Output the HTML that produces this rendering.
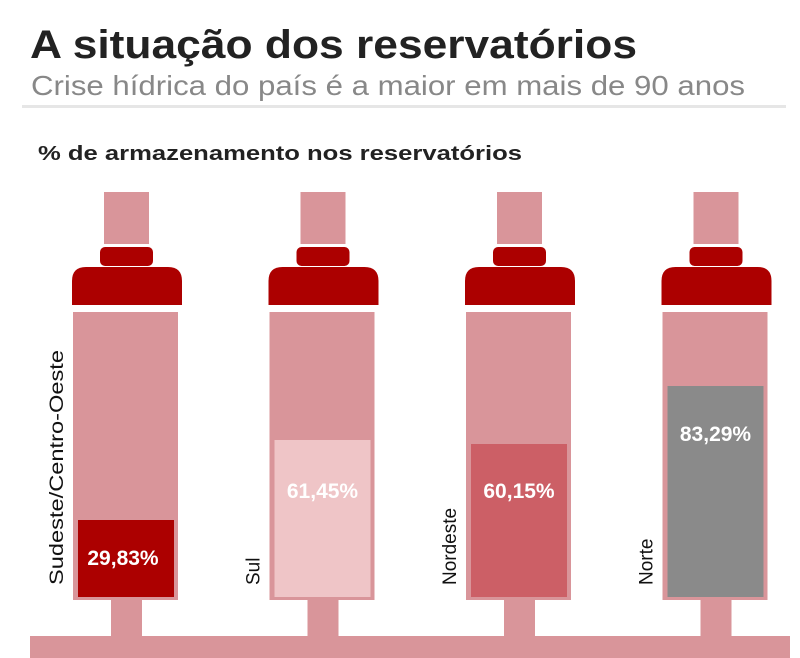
<!DOCTYPE html>
<html><head><meta charset="utf-8"><style>
html,body{margin:0;padding:0;background:#fff;}
svg{display:block;}
text{font-family:"Liberation Sans",sans-serif;}
</style></head><body>
<svg width="800" height="658" viewBox="0 0 800 658" xmlns="http://www.w3.org/2000/svg">
<rect width="800" height="658" fill="#fff"/>
<text x="30" y="58" font-size="40" font-weight="bold" fill="#222" textLength="607" lengthAdjust="spacingAndGlyphs">A situação dos reservatórios</text>
<text x="31" y="95" font-size="28" fill="#888" textLength="714" lengthAdjust="spacingAndGlyphs">Crise hídrica do país é a maior em mais de 90 anos</text>
<rect x="22" y="105" width="764" height="3" fill="#e6e6e6"/>
<text x="38" y="160" font-size="20" font-weight="bold" fill="#222" textLength="484" lengthAdjust="spacingAndGlyphs">% de armazenamento nos reservatórios</text>
<rect x="30" y="636" width="760" height="22" fill="#d9959a"/>
<g id="b">
</g>
<!-- bottles -->
<g transform="translate(0,0)">
<rect x="104" y="192" width="45" height="52" fill="#d9959a"/>
<rect x="100" y="247" width="53" height="19" rx="5" fill="#ac0000"/>
<path d="M72 305 V281 Q72 267 86 267 H168 Q182 267 182 281 V305 Z" fill="#ac0000"/>
<rect x="73" y="312" width="105" height="288" fill="#d9959a"/>
<rect x="78" y="520" width="96" height="77" fill="#ac0000"/>
<rect x="111" y="600" width="31" height="36" fill="#d9959a"/>
<text x="123" y="565" font-size="21" font-weight="bold" fill="#fff" text-anchor="middle">29,83%</text>
<text transform="translate(63,585) rotate(-90)" font-size="19" fill="#111" textLength="235" lengthAdjust="spacingAndGlyphs">Sudeste/Centro-Oeste</text>
</g>
<g transform="translate(196.5,0)">
<rect x="104" y="192" width="45" height="52" fill="#d9959a"/>
<rect x="100" y="247" width="53" height="19" rx="5" fill="#ac0000"/>
<path d="M72 305 V281 Q72 267 86 267 H168 Q182 267 182 281 V305 Z" fill="#ac0000"/>
<rect x="73" y="312" width="105" height="288" fill="#d9959a"/>
<rect x="78" y="440" width="96" height="157" fill="#efc5c7"/>
<rect x="111" y="600" width="31" height="36" fill="#d9959a"/>
<text x="126" y="498" font-size="21" font-weight="bold" fill="#fff" text-anchor="middle">61,45%</text>
<text transform="translate(63,585) rotate(-90)" font-size="19" fill="#111">Sul</text>
</g>
<g transform="translate(393,0)">
<rect x="104" y="192" width="45" height="52" fill="#d9959a"/>
<rect x="100" y="247" width="53" height="19" rx="5" fill="#ac0000"/>
<path d="M72 305 V281 Q72 267 86 267 H168 Q182 267 182 281 V305 Z" fill="#ac0000"/>
<rect x="73" y="312" width="105" height="288" fill="#d9959a"/>
<rect x="78" y="444" width="96" height="153" fill="#cc5f66"/>
<rect x="111" y="600" width="31" height="36" fill="#d9959a"/>
<text x="126" y="498" font-size="21" font-weight="bold" fill="#fff" text-anchor="middle">60,15%</text>
<text transform="translate(63,585) rotate(-90)" font-size="19" fill="#111">Nordeste</text>
</g>
<g transform="translate(589.5,0)">
<rect x="104" y="192" width="45" height="52" fill="#d9959a"/>
<rect x="100" y="247" width="53" height="19" rx="5" fill="#ac0000"/>
<path d="M72 305 V281 Q72 267 86 267 H168 Q182 267 182 281 V305 Z" fill="#ac0000"/>
<rect x="73" y="312" width="105" height="288" fill="#d9959a"/>
<rect x="78" y="386" width="96" height="211" fill="#8a8a8a"/>
<rect x="111" y="600" width="31" height="36" fill="#d9959a"/>
<text x="126" y="441" font-size="21" font-weight="bold" fill="#fff" text-anchor="middle">83,29%</text>
<text transform="translate(63,585) rotate(-90)" font-size="19" fill="#111">Norte</text>
</g>
</svg>
</body></html>
